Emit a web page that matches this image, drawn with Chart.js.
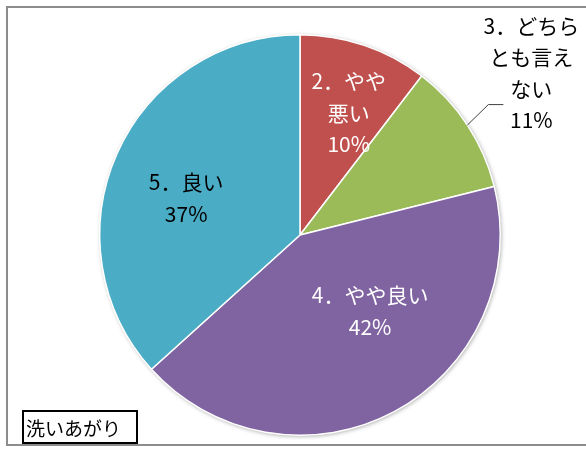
<!DOCTYPE html>
<html>
<head>
<meta charset="utf-8">
<script src="https://cdn.jsdelivr.net/npm/chart.js@4/dist/chart.umd.min.js"></script>
<style>
  html, body { margin: 0; padding: 0; background: #fff; }
  #wrap { width: 586px; height: 451px; position: relative; }
</style>
</head>
<body>
<div id="wrap"><canvas id="pie"></canvas></div>
<script>
// data (clockwise from 12 o'clock)
const categories = ['2．やや悪い', '3．どちらとも言えない', '4．やや良い', '5．良い'];
const values = [10.4, 10.7, 42.2, 36.7];
// label text split into lines as in the original
const labelLines = [
    ['2．やや', '悪い'],
    ['3．どちら', 'とも言え', 'ない'],
    ['4．やや良い'],
    ['5．良い']
];
const sliceColors = ['#C0504D', '#9BBB59', '#8064A2', '#4BACC6'];
const chartTitle = '洗いあがり';

const FONT = '"Noto Sans CJK JP", "Noto Sans", sans-serif';

// where each label sits: fraction of radius along mid angle + small nudge
const labelPlace = [
    { frac: 0.65, dx: 7, dy: 1, color: '#fff' },
    { frac: 1.40, dx: -3, dy: -8, color: '#000', leader: true },
    { frac: 0.51, dx: 22, dy: -14, color: '#fff' },
    { frac: 0.60, dx: -4, dy: 12, color: '#000' }
];

const framePlugin = {
    id: 'frame',
    beforeDraw(chart) {
        const ctx = chart.ctx;
        ctx.save();
        ctx.fillStyle = '#fff';
        ctx.fillRect(0, 0, chart.width, chart.height);
        ctx.strokeStyle = '#8c8c8c';
        ctx.lineWidth = 2;
        ctx.strokeRect(7, 7, chart.width + 10, 438);
        ctx.restore();
    },
    beforeDatasetsDraw(chart) {
        // soft shadow under the pie
        const arc = chart.getDatasetMeta(0).data[0];
        const ctx = chart.ctx;
        ctx.save();
        ctx.shadowColor = 'rgba(0,0,0,0.35)';
        ctx.shadowBlur = 4;
        ctx.shadowOffsetX = 1;
        ctx.shadowOffsetY = 1;
        ctx.fillStyle = '#fff';
        ctx.beginPath();
        ctx.arc(arc.x, arc.y, arc.outerRadius, 0, Math.PI * 2);
        ctx.fill();
        ctx.restore();
    },
    afterDraw(chart) {
        const ctx = chart.ctx;
        const meta = chart.getDatasetMeta(0);
        const total = values.reduce((a, b) => a + b, 0);
        ctx.save();
        ctx.font = '21px ' + FONT;
        ctx.textAlign = 'center';
        ctx.textBaseline = 'middle';
        meta.data.forEach((arc, i) => {
            const p = labelPlace[i];
            const mid = (arc.startAngle + arc.endAngle) / 2;
            const r = arc.outerRadius;
            const cx = arc.x + Math.cos(mid) * r * p.frac + p.dx;
            const cy = arc.y + Math.sin(mid) * r * p.frac + p.dy;
            const lines = labelLines[i].concat([Math.round(values[i] / total * 100) + '%']);
            const lh = 31.5;
            const top = cy - (lines.length - 1) * lh / 2;
            ctx.fillStyle = p.color;
            lines.forEach((t, k) => ctx.fillText(t, cx, top + k * lh));
            if (p.leader) {
                const ex = arc.x + Math.cos(mid) * r;
                const ey = arc.y + Math.sin(mid) * r;
                const ky = top + (lines.length - 1.5) * lh;
                ctx.strokeStyle = '#404040';
                ctx.lineWidth = 1;
                ctx.beginPath();
                ctx.moveTo(ex, ey);
                ctx.lineTo(ex + 21, ky);
                ctx.lineTo(ex + 36, ky);
                ctx.stroke();
            }
        });
        // title box
        ctx.font = '19px ' + FONT;
        ctx.textAlign = 'left';
        const w = ctx.measureText(chartTitle).width;
        ctx.strokeStyle = '#000';
        ctx.lineWidth = 2;
        ctx.strokeRect(23, 411, w + 19, 32);
        ctx.fillStyle = '#000';
        ctx.fillText(chartTitle, 26, 429);
        ctx.restore();
    }
};

const config = {
    type: 'pie',
    data: {
        labels: categories,
        datasets: [{
            data: values,
            backgroundColor: sliceColors,
            borderColor: '#fff',
            borderWidth: 1.5
        }]
    },
    options: {
        responsive: false,
        animation: false,
        layout: { padding: { top: 34, bottom: 15, left: 99, right: 85 } },
        plugins: {
            legend: { display: false },
            tooltip: { enabled: false }
        }
    },
    plugins: [framePlugin]
};

const canvas = document.getElementById('pie');
canvas.width = 586;
canvas.height = 451;
new Chart(canvas.getContext('2d'), config);
</script>
</body>
</html>
